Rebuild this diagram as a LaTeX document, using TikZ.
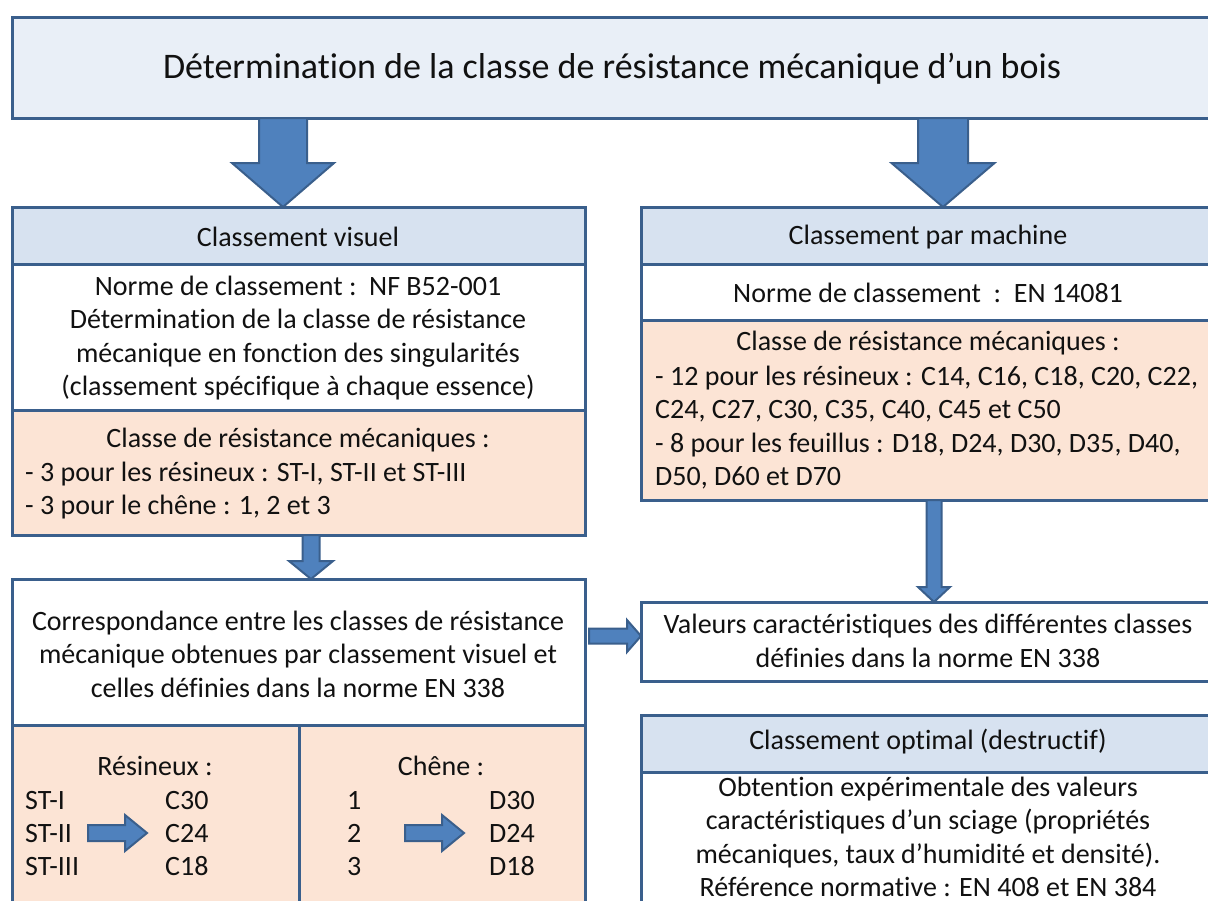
\documentclass[tikz,border=0pt]{standalone}
\usepackage{fontspec}
\setmainfont{Carlito}[Ligatures=NoCommon]
\usetikzlibrary{calc}
\definecolor{bord}{HTML}{3A5F8C}
\definecolor{titlefill}{HTML}{E9EFF7}
\definecolor{hdrfill}{HTML}{D7E2F0}
\definecolor{orfill}{HTML}{FCE4D5}
\definecolor{arrfill}{HTML}{4F81BD}
\definecolor{arrbord}{HTML}{3A5F8C}
\definecolor{txtcol}{HTML}{111111}
\tikzset{
 box/.style={draw=bord, line width=3pt, anchor=north west, inner sep=0pt, outer sep=0pt},
 titlebox/.style={box, fill=titlefill},
 hdrbox/.style={box, fill=hdrfill},
 whitebox/.style={box, fill=white},
 orbox/.style={box, fill=orfill},
 txt/.style={text=txtcol, font=\fontsize{28}{33.5}\selectfont, inner sep=0pt, align=center},
 ltxt/.style={txt, anchor=base west, align=left},
 blk/.style={fill=arrfill, draw=arrbord, line width=2pt, line join=miter},
}
% vertical block arrow: from #1 down to #2 (x of #1), shaft half width #3, head half width #4, head length #5
\newcommand{\blkdown}[5]{\draw[blk] let \p1=(#1), \p2=(#2) in (\x1-#3pt,\y1) -- (\x1+#3pt,\y1) -- (\x1+#3pt,\y2+#5pt) -- (\x1+#4pt,\y2+#5pt) -- (\x1,\y2) -- (\x1-#4pt,\y2+#5pt) -- (\x1-#3pt,\y2+#5pt) -- cycle;}
% horizontal block arrow: from #1 right to #2 (y of #1)
\newcommand{\blkright}[5]{\draw[blk] let \p1=(#1), \p2=(#2) in (\x1,\y1-#3pt) -- (\x2-#5pt,\y1-#3pt) -- (\x2-#5pt,\y1-#4pt) -- (\x2,\y1) -- (\x2-#5pt,\y1+#4pt) -- (\x2-#5pt,\y1+#3pt) -- (\x1,\y1+#3pt) -- cycle;}
\begin{document}
\begin{tikzpicture}[x=1pt,y=-1pt]
\clip (0,0) rectangle (1208,900);
\fill[white] (0,0) rectangle (1208,900);
% title
\node[titlebox, minimum width=1200pt, minimum height=101pt] (title) at (12,17) {};
\node[txt, font=\fontsize{36}{42}\selectfont] (titletxt) at (612,69) {Détermination de la classe de résistance mécanique d’un bois};
% left column
\node[hdrbox, minimum width=573pt, minimum height=57pt] (vh) at (12,207) {};
\node[txt] (vhtxt) at (298,237) {Classement visuel};
\node[whitebox, minimum width=573pt, minimum height=146pt] (vn) at (12,264) {};
\node[txt] (vntxt) at (298,338) {Norme de classement :\ \ NF B52-001\\Détermination de la classe de résistance\\mécanique en fonction des singularités\\(classement spécifique à chaque essence)};
\node[orbox, minimum width=573pt, minimum height=125pt] (vo) at (12,410) {};
\node[txt] (vot) at (298,440) {Classe de résistance mécaniques :};
\node[ltxt] (vo1) at (25,481) {- 3 pour les résineux : ST-I, ST-II et ST-III};
\node[ltxt] (vo2) at (25,514) {- 3 pour le chêne : 1, 2 et 3};
\node[whitebox, minimum width=573pt, minimum height=146pt] (corr) at (12,579) {};
\node[txt] (corrtxt) at (298,654) {Correspondance entre les classes de résistance\\mécanique obtenues par classement visuel et\\celles définies dans la norme EN 338};
\node[orbox, minimum width=287pt, minimum height=200pt] (cres) at (12,725) {};
\node[orbox, minimum width=286pt, minimum height=200pt] (cche) at (299,725) {};
\node[txt] (restit) at (155,766) {Résineux :};
\node[txt] (chetit) at (441,766) {Chêne :};
\node[ltxt] (st1) at (25,809) {ST-I};
\node[ltxt] (st2) at (25,842) {ST-II};
\node[ltxt] (st3) at (25,875) {ST-III};
\node[ltxt] (c30) at (165,809) {C30};
\node[ltxt] (c24) at (165,842) {C24};
\node[ltxt] (c18) at (165,875) {C18};
\node[ltxt] (n1) at (347,809) {1};
\node[ltxt] (n2) at (347,842) {2};
\node[ltxt] (n3) at (347,875) {3};
\node[ltxt] (d30) at (489,809) {D30};
\node[ltxt] (d24) at (489,842) {D24};
\node[ltxt] (d18) at (489,875) {D18};
% right column
\node[hdrbox, minimum width=573pt, minimum height=57pt] (mh) at (641,207) {};
\node[txt] (mhtxt) at (928,237) {Classement par machine};
\node[whitebox, minimum width=573pt, minimum height=56pt] (mn) at (641,264) {};
\node[txt] (mntxt) at (928,293) {Norme de classement\ \ :\ \ EN 14081};
\node[orbox, minimum width=573pt, minimum height=180pt] (mo) at (641,320) {};
\node[txt] (mot) at (928,343) {Classe de résistance mécaniques :};
\node[ltxt] (mo1) at (655,385) {- 12 pour les résineux : C14, C16, C18, C20, C22,};
\node[ltxt] (mo2) at (655,418) {C24, C27, C30, C35, C40, C45 et C50};
\node[ltxt] (mo3) at (655,452) {- 8 pour les feuillus : D18, D24, D30, D35, D40,};
\node[ltxt] (mo4) at (655,485) {D50, D60 et D70};
\node[whitebox, minimum width=573pt, minimum height=79pt] (val) at (641,602) {};
\node[txt] (valtxt) at (928,641) {Valeurs caractéristiques des différentes classes\\définies dans la norme EN 338};
\node[hdrbox, minimum width=573pt, minimum height=57pt] (oh) at (641,715) {};
\node[txt] (ohtxt) at (928,742) {Classement optimal (destructif)};
\node[whitebox, minimum width=573pt, minimum height=160pt] (on) at (641,772) {};
\node[txt] (ontxt) at (928,837) {Obtention expérimentale des valeurs\\caractéristiques d’un sciage (propriétés\\mécaniques, taux d’humidité et densité).\\Référence normative : EN 408 et EN 384};
% arrows
\coordinate (a1s) at ($(title.south west)+(271,0)$);
\coordinate (a2s) at ($(title.south west)+(931,0)$);
\coordinate (a3s) at ($(vo.south west)+(299,0)$);
\coordinate (a4s) at ($(mo.south west)+(293,0)$);
\blkdown{a1s}{vh.north}{24}{51}{44}
\blkdown{a2s}{mh.north}{25}{51.5}{44}
\blkdown{a3s}{corr.north}{8.5}{22}{18}
\blkdown{a4s}{val.north}{7.5}{16}{15}
\coordinate (a5s) at ($(corr.north east)+(4,57)$);
\coordinate (a5e) at ($(val.north west)+(0,34)$);
\blkright{a5s}{a5e}{7.5}{16}{14}
\coordinate (a6s) at (88,833);
\coordinate (a6e) at ($(c24.base west)+(-18,-9)$);
\blkright{a6s}{a6e}{8}{18}{22}
\coordinate (a7s) at (405,833);
\coordinate (a7e) at ($(d24.base west)+(-25,-9)$);
\blkright{a7s}{a7e}{8}{18}{22}
\end{tikzpicture}
\end{document}
